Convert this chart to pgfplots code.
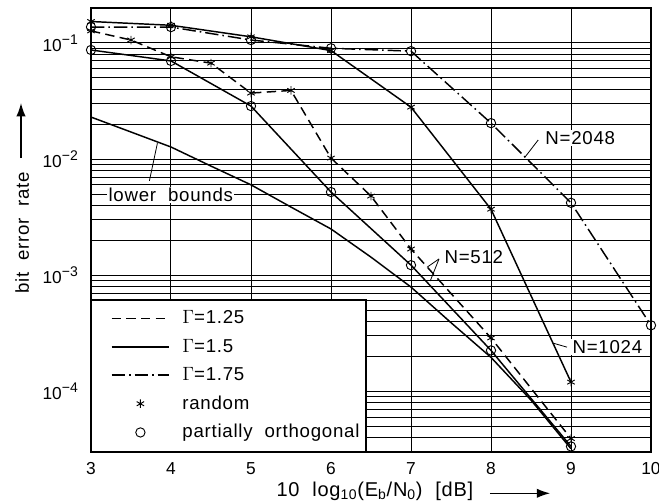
\documentclass[border=0pt]{standalone}
\usepackage{fontspec}
\setmainfont[LetterSpace=4]{Liberation Sans}
\newfontfamily\tickfont{Liberation Sans}
\usepackage{pgfplots}
\pgfplotsset{compat=1.18}
\usetikzlibrary{arrows.meta}
\pgfplotsset{
  lineleg/.style={legend image code/.code={\path[draw=none] (0pt,-0.5pt) rectangle (63pt,0.5pt); \draw[##1] (12pt,0pt) -- (55pt,0pt);}},
  markleg/.style={legend image code/.code={\path[draw=none] (0pt,-0.5pt) rectangle (63pt,0.5pt); \draw[##1] plot coordinates {(33.5pt,0pt)};}},
}
\newcommand{\tp}[1]{10\raisebox{5.5pt}{\fontsize{10.5}{12}\selectfont −#1}}
\begin{document}
\fontsize{14}{16}\selectfont
\begin{tikzpicture}
\begin{axis}[
  scale only axis, width=420pt, height=333pt,
  xmin=3, xmax=10, ymin=3e-5, ymax=0.2,
  ymode=log,
  xtick={3,4,5,6,7,8,9,10},
  xticklabels={3,4,5,6,7,8,9,10},
  ytick={1e-4,1e-3,1e-2,1e-1},
  yticklabels={\tp{4},\tp{3},\tp{2},\tp{1}},
  minor ytick={4e-5,5e-5,6e-5,7e-5,8e-5,9e-5,2e-4,3e-4,4e-4,5e-4,6e-4,7e-4,8e-4,9e-4,2e-3,3e-3,4e-3,5e-3,6e-3,7e-3,8e-3,9e-3,2e-2,3e-2,4e-2,5e-2,6e-2,7e-2,8e-2,9e-2},
  minor x tick num=0,
  grid=both,
  major grid style={black, line width=0.75pt},
  minor grid style={black, line width=0.75pt},
  major tick length=0pt, minor tick length=0pt,
  axis line style={black, line width=1.1pt},
  tick label style={font=\tickfont\fontsize{13}{15}\selectfont},
  xticklabel style={yshift=-3pt},
  yticklabel style={xshift=-5pt},
  xlabel={10\ \ log\textsubscript{10}(E\textsubscript{b}/N\textsubscript{0})\ \ [dB]},
  xlabel style={at={(axis description cs:0.507,-0.088)}, anchor=center, font=\fontsize{15}{17}\selectfont},
  ylabel={bit\ \ error\ \ rate},
  ylabel style={at={(axis description cs:-0.123,0.493)}, anchor=center, rotate=0, font=\fontsize{14}{16}\selectfont},
  legend style={at={(rel axis cs:0,0)}, anchor=south west, draw=black, line width=1.1pt,
    fill=white, font=\fontsize{14}{16}\selectfont, row sep=5.3pt, inner ysep=6pt},
  legend cell align=left,
  every axis plot/.append style={line width=1.1pt},
]
% legend images
\addlegendimage{black, dash pattern=on 7pt off 4pt, lineleg}
\addlegendentry{$\Gamma$=1.25}
\addlegendimage{black, solid, lineleg}
\addlegendentry{$\Gamma$=1.5}
\addlegendimage{black, dash pattern=on 10pt off 3pt on 1.2pt off 3pt, lineleg}
\addlegendentry{$\Gamma$=1.75}
\addlegendimage{black, only marks, mark=asterisk, mark size=3.2pt, mark options={line width=0.7pt}, markleg}
\addlegendentry{random}
\addlegendimage{black, only marks, mark=o, mark size=3.5pt, mark options={line width=0.7pt}, markleg}
\addlegendentry{partially\ \ orthogonal\hspace{16pt}}

% lower bound
\addplot[black, solid, forget plot] coordinates {
(3,0.023) (3.5,0.0171) (4,0.0127) (4.5,0.0087) (5,0.0060) (5.5,0.00386) (6,0.00250)
(6.5,0.00143) (7,0.00079) (7.5,0.00039) (8,0.000196) (8.5,0.000084) (9,0.000032)};
% Gamma=1.25 random (N=512)
\addplot[black, dash pattern=on 7pt off 4pt, mark=asterisk, mark size=3.2pt, mark options={solid, line width=0.7pt}, forget plot] coordinates {
(3,0.127) (3.5,0.106) (4,0.076) (4.5,0.067) (5,0.037) (5.5,0.0390) (6,0.0102) (6.5,0.0048)
(7,0.00168) (8,0.000288) (9,0.0000392)};
% Gamma=1.5 partially orthogonal (N=512)
\addplot[black, solid, mark=o, mark size=3.5pt, mark options={line width=0.7pt}, forget plot] coordinates {
(3,0.087) (4,0.070) (5,0.0286) (6,0.0052) (7,0.00122) (8,0.000225) (9,0.0000335)};
% Gamma=1.5 random (N=1024)
\addplot[black, solid, mark=asterisk, mark size=3.2pt, mark options={line width=0.7pt}, forget plot] coordinates {
(3,0.153) (4,0.142) (5,0.113) (6,0.086) (7,0.028) (8,0.0037) (9,0.00012)};
% Gamma=1.75 partially orthogonal (N=2048)
\addplot[black, dash pattern=on 10pt off 3pt on 1.2pt off 3pt, mark=o, mark size=3.5pt, mark options={solid, line width=0.7pt}, forget plot] coordinates {
(3,0.137) (4,0.137) (5,0.106) (6,0.090) (7,0.085) (8,0.0204) (9,0.00420) (10,0.00037)};

% annotations
\draw[black, line width=0.6pt] (axis cs:8.59,0.0146) -- (axis cs:8.425,0.0104);
\node[anchor=west, fill=white, inner sep=1pt] at (axis cs:8.66,0.0152) {N=2048};
\draw[black, line width=0.6pt] (axis cs:7.35,0.00138) -- (axis cs:7.2,0.00117);
\draw[black, line width=0.6pt] (axis cs:7.35,0.00138) -- (axis cs:7.24,0.00089);
\node[anchor=west, inner sep=1pt] at (axis cs:7.40,0.00143) {N=512};
\draw[black, line width=0.6pt] (axis cs:8.95,0.00024) -- (axis cs:8.775,0.00026);
\node[anchor=west, fill=white, inner sep=1pt] at (axis cs:9.0,0.00024) {N=1024};
\draw[black, line width=0.6pt] (axis cs:3.73,0.0065) -- (axis cs:3.83,0.0137);
\node[anchor=west, fill=white, inner sep=1pt] at (axis cs:3.2,0.0049) {lower\ \ bounds};

\coordinate (xa1) at (axis description cs:0.7125,-0.093);
\coordinate (xa2) at (axis description cs:0.82,-0.093);
\coordinate (ya1) at (axis description cs:-0.125,0.662);
\coordinate (ya2) at (axis description cs:-0.125,0.786);
\coordinate (SW) at (rel axis cs:0,0);
\coordinate (NE) at (rel axis cs:1,1);
\end{axis}
% label arrows
\draw[black, line width=1.1pt, -{Latex[length=10pt,width=7pt]}] (xa1) -- (xa2);
\draw[black, line width=1.1pt, -{Latex[length=10pt,width=7pt]}] (ya1) -- (ya2);
\pgfresetboundingbox
\path ([xshift=-68.25pt,yshift=-38.25pt]SW) rectangle ([xshift=6pt,yshift=6pt]NE);
\end{tikzpicture}
\end{document}
